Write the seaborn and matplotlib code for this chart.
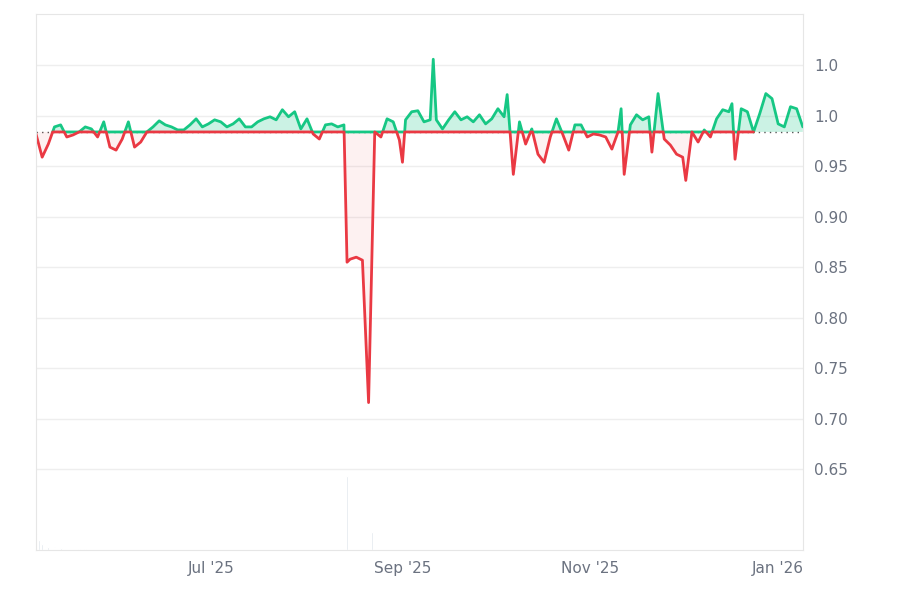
import numpy as np
import pandas as pd
import matplotlib.pyplot as plt
import seaborn as sns

START = pd.Timestamp('2025-05-05')
BASE = 0.984

day_offsets = [0, 2, 4, 6, 8, 10, 12, 14, 16, 18, 20, 22, 24, 26, 28, 30, 32, 34, 36, 38,
               40, 42, 44, 46, 48, 50, 52, 54, 56, 58, 60, 62, 64, 66, 68, 70, 72, 74, 76, 78,
               80, 82, 84, 86, 88, 90, 92, 94, 96, 98, 100, 101, 102, 104, 106, 108, 110, 112, 114, 116,
               118, 119, 120, 122, 124, 126, 128, 129, 130, 132, 134, 136, 138, 140, 142, 144, 146, 148, 150, 152,
               153, 155, 157, 159, 161, 163, 165, 167, 169, 171, 173, 175, 177, 179, 181, 183, 185, 187, 189, 190,
               191, 193, 195, 197, 199, 200, 202, 204, 206, 208, 210, 211, 213, 215, 217, 219, 221, 223, 225, 226,
               227, 229, 231, 233, 235, 237, 239, 241, 243, 245, 247, 249]
prices = [0.982, 0.959, 0.972, 0.989, 0.991, 0.979, 0.981, 0.984, 0.989, 0.987, 0.979, 0.994, 0.969, 0.966, 0.977, 0.994, 0.969, 0.974, 0.984, 0.989,
          0.995, 0.991, 0.989, 0.986, 0.986, 0.991, 0.997, 0.989, 0.992, 0.996, 0.994, 0.989, 0.992, 0.997, 0.989, 0.989, 0.994, 0.997, 0.999, 0.996,
          1.006, 0.999, 1.004, 0.987, 0.997, 0.982, 0.977, 0.991, 0.992, 0.989, 0.991, 0.855, 0.858, 0.860, 0.857, 0.716, 0.984, 0.979, 0.997, 0.994,
          0.976, 0.954, 0.996, 1.004, 1.005, 0.994, 0.996, 1.056, 0.996, 0.987, 0.996, 1.004, 0.996, 0.999, 0.994, 1.001, 0.992, 0.997, 1.007, 0.999,
          1.021, 0.942, 0.994, 0.972, 0.987, 0.962, 0.954, 0.979, 0.997, 0.982, 0.966, 0.991, 0.991, 0.979, 0.982, 0.981, 0.979, 0.967, 0.984, 1.007,
          0.942, 0.991, 1.001, 0.996, 0.999, 0.964, 1.022, 0.977, 0.971, 0.962, 0.959, 0.936, 0.984, 0.974, 0.986, 0.979, 0.997, 1.006, 1.004, 1.012,
          0.957, 1.007, 1.004, 0.984, 1.002, 1.022, 1.017, 0.992, 0.989, 1.009, 1.007, 0.989]

vol_days = [0, 1, 2, 4, 6, 8, 14, 16, 101, 109]
volumes = [16, 10, 6, 3, 3, 2, 1, 1, 74, 18]

y_ticks = [0.65, 0.70, 0.75, 0.80, 0.85, 0.90, 0.95, 1.00, 1.05]
y_labels = ['0.65', '0.70', '0.75', '0.80', '0.85', '0.90', '0.95', '1.0', '1.0']
x_ticks = ['2025-07-01', '2025-09-01', '2025-11-01', '2026-01-01']
x_labels = ["Jul '25", "Sep '25", "Nov '25", "Jan '26"]

# insert baseline crossing points so the two colours split cleanly
xs, ys = [day_offsets[0]], [prices[0]]
for (d0, p0), (d1, p1) in zip(zip(day_offsets, prices), zip(day_offsets[1:], prices[1:])):
    if (p0 - BASE) * (p1 - BASE) < 0:
        t = (BASE - p0) / (p1 - p0)
        xs.append(d0 + t * (d1 - d0))
        ys.append(BASE)
    xs.append(d1)
    ys.append(p1)
xs, ys = np.array(xs), np.array(ys)

df = pd.DataFrame({'date': START + pd.to_timedelta(xs, unit='D'), 'price': ys})
df['up'] = df['price'].where(df['price'] >= BASE)
df['down'] = df['price'].where(df['price'] <= BASE)
vdf = pd.DataFrame({'date': START + pd.to_timedelta(vol_days, unit='D'), 'vol': volumes})

sns.set_style('white')
plt.rcParams['font.family'] = ['DejaVu Sans']
green = '#16c784'
red = '#ea3943'
grey = '#eeeeee'

fig = plt.figure(figsize=(9, 6), dpi=100)
ax = fig.add_axes([0.04, 0.0833, 0.852, 0.8937])

# volume bars on a hidden twin axis
vax = ax.twinx()
vax.bar(vdf['date'], vdf['vol'], width=0.6, color='#dde4ea')
vax.set_ylim(0, 536)
vax.axis('off')
ax.set_zorder(vax.get_zorder() + 1)
ax.patch.set_visible(False)

for y in y_ticks:
    ax.axhline(y, color=grey, lw=1, zorder=0)
ax.axhline(BASE, color='#555555', lw=1, ls=(0, (1, 3)), zorder=1)

ax.fill_between(df['date'], BASE, df['price'], where=df['price'] >= BASE,
                color=green, alpha=0.22, lw=0)
ax.fill_between(df['date'], BASE, df['price'], where=df['price'] <= BASE,
                color=red, alpha=0.07, lw=0)
sns.lineplot(data=df, x='date', y='up', ax=ax, color=green, lw=2)
sns.lineplot(data=df, x='date', y='down', ax=ax, color=red, lw=2)

ax.set_xlim(START, START + pd.Timedelta(days=249))
ax.set_ylim(0.570, 1.101)
ax.yaxis.tick_right()
ax.set_yticks(y_ticks)
ax.set_yticklabels(y_labels)
ax.set_xticks(pd.to_datetime(x_ticks))
ax.set_xticklabels(x_labels)
ax.tick_params(length=0, colors='#6b7280', labelsize=11, pad=8)
ax.set_xlabel('')
ax.set_ylabel('')
for s in ax.spines.values():
    s.set_color('#e6e6e6')
for s in vax.spines.values():
    s.set_visible(False)

fig.savefig('out.png', dpi=100)
